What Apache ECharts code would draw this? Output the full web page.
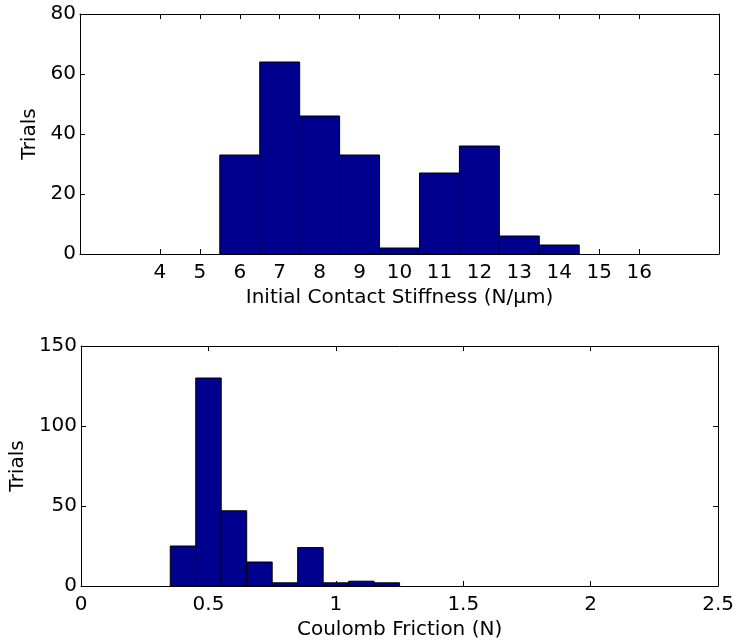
<!DOCTYPE html>
<html>
<head>
<meta charset="utf-8">
<script src="https://cdn.jsdelivr.net/npm/echarts@6/dist/echarts.min.js"></script>
<style>
html,body{margin:0;padding:0;background:#fff;}
#chart{width:737px;height:641px;}
</style>
</head>
<body>
<div id="chart"></div>
<script>
// Top histogram: initial contact stiffness
const stiffnessCenters = [6, 7, 8, 9, 10, 11, 12, 13, 14];
const stiffnessCounts  = [33, 64, 46, 33, 2, 27, 36, 6, 3];
const stiffnessBinWidth = 1;
const stiffnessTicks = [4, 5, 6, 7, 8, 9, 10, 11, 12, 13, 14, 15, 16];
const stiffnessYInterval = 20;

// Bottom histogram: Coulomb friction
const frictionCenters = [0.4, 0.5, 0.6, 0.7, 0.8, 0.9, 1.0, 1.1, 1.2];
const frictionCounts  = [25, 130, 47, 15, 2, 24, 2, 3, 2];
const frictionBinWidth = 0.1;
const frictionXInterval = 0.5;
const frictionYInterval = 50;

const FONT = 'DejaVu Sans';
const FS = 20;
const BAR = '#00008F';

const chart = echarts.init(document.getElementById('chart'), null, {renderer: 'canvas'});

function histRender(binWidth) {
  return function (params, api) {
    const x = api.value(0), y = api.value(1);
    const p0 = api.coord([x - binWidth / 2, y]);
    const p1 = api.coord([x + binWidth / 2, 0]);
    return {
      type: 'rect',
      shape: {x: p0[0], y: p0[1], width: p1[0] - p0[0], height: p1[1] - p0[1]},
      style: {fill: BAR, stroke: '#000', lineWidth: 1}
    };
  };
}

function tick(extra) {
  return Object.assign({show: true, inside: true, length: 5, lineStyle: {color: '#000', width: 1}}, extra || {});
}
const labelStyle = {color: '#000', fontFamily: FONT, fontSize: FS};
const nameStyle = {color: '#000', fontFamily: FONT, fontSize: FS};
const lineStyle = {show: true, onZero: false, lineStyle: {color: '#000', width: 1}};

chart.setOption({
  animation: false,
  backgroundColor: '#fff',
  grid: [
    {left: 80, right: 18, top: 14, height: 240},
    {left: 80, right: 18, top: 346, height: 240}
  ],
  xAxis: [
    {
      type: 'value', gridIndex: 0, min: 2, max: 18, position: 'bottom',
      name: 'Initial Contact Stiffness (N/\u00B5m)', nameLocation: 'middle', nameGap: 34, nameTextStyle: nameStyle,
      axisLine: lineStyle,
      axisTick: tick({customValues: stiffnessTicks, inside: false, length: -5}),
      axisLabel: Object.assign({customValues: stiffnessTicks, margin: 9}, labelStyle),
      splitLine: {show: false}
    },
    {
      type: 'value', gridIndex: 0, min: 2, max: 18, position: 'top',
      axisLine: lineStyle,
      axisTick: tick({customValues: stiffnessTicks, inside: false, length: -5}),
      axisLabel: {show: false},
      splitLine: {show: false}
    },
    {
      type: 'value', gridIndex: 1, min: 0, max: 2.5, interval: frictionXInterval, position: 'bottom',
      name: 'Coulomb Friction (N)', nameLocation: 'middle', nameGap: 34, nameTextStyle: nameStyle,
      axisLine: lineStyle,
      axisTick: tick(),
      axisLabel: Object.assign({margin: 9}, labelStyle),
      splitLine: {show: false}
    },
    {
      type: 'value', gridIndex: 1, min: 0, max: 2.5, interval: frictionXInterval, position: 'top',
      axisLine: lineStyle,
      axisTick: tick(),
      axisLabel: {show: false},
      splitLine: {show: false}
    }
  ],
  yAxis: [
    {
      type: 'value', gridIndex: 0, min: 0, max: 80, interval: stiffnessYInterval, position: 'left',
      name: 'Trials', nameLocation: 'middle', nameGap: 36, nameTextStyle: nameStyle,
      axisLine: lineStyle,
      axisTick: tick(),
      axisLabel: Object.assign({margin: 4}, labelStyle),
      splitLine: {show: false}
    },
    {
      type: 'value', gridIndex: 0, min: 0, max: 80, interval: stiffnessYInterval, position: 'right',
      axisLine: lineStyle,
      axisTick: tick(),
      axisLabel: {show: false},
      splitLine: {show: false}
    },
    {
      type: 'value', gridIndex: 1, min: 0, max: 150, interval: frictionYInterval, position: 'left',
      name: 'Trials', nameLocation: 'middle', nameGap: 48, nameTextStyle: nameStyle,
      axisLine: lineStyle,
      axisTick: tick(),
      axisLabel: Object.assign({margin: 4}, labelStyle),
      splitLine: {show: false}
    },
    {
      type: 'value', gridIndex: 1, min: 0, max: 150, interval: frictionYInterval, position: 'right',
      axisLine: lineStyle,
      axisTick: tick(),
      axisLabel: {show: false},
      splitLine: {show: false}
    }
  ],
  series: [
    {
      type: 'custom', xAxisIndex: 0, yAxisIndex: 0,
      renderItem: histRender(stiffnessBinWidth),
      data: stiffnessCenters.map((c, i) => [c, stiffnessCounts[i]])
    },
    {
      type: 'custom', xAxisIndex: 2, yAxisIndex: 2,
      renderItem: histRender(frictionBinWidth),
      data: frictionCenters.map((c, i) => [c, frictionCounts[i]])
    }
  ]
});
</script>
</body>
</html>
